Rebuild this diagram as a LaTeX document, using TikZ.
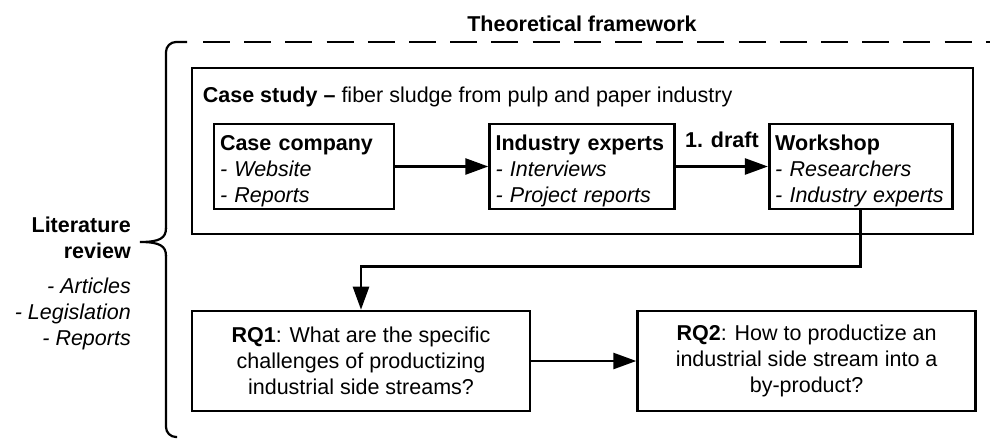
\documentclass[tikz,border=0pt]{standalone}
\usepackage{fontspec}
\setmainfont{Liberation Sans}
\usepackage{tikz}
\usetikzlibrary{arrows.meta,positioning,calc}

\begin{document}
\begin{tikzpicture}[x=1pt,y=-1pt,
    font=\fontsize{21.5pt}{26pt}\selectfont,
    >={Triangle[length=23pt,width=16pt]},
    node distance=93pt,
    box/.style={draw,line width=2.6pt,align=left,inner xsep=6pt,inner ysep=0pt,minimum height=85pt,
      execute at begin node={\rule{0pt}{23.5pt}}},
    rqbox/.style={draw,line width=2.6pt,align=center,minimum width=338pt,minimum height=100pt},
    flow/.style={->,line width=2.6pt},
    brace/.style={line width=2.2pt}]
  \useasboundingbox (0,0) rectangle (990,439);
  \node[anchor=base] (framework) at (582,31) {\textbf{Theoretical framework}};
  \draw[brace,rounded corners=10pt] (187,42) -- (166,42) -- (166,229);
  \draw[brace] (166,228) .. controls (166,238) and (160,242) .. (140,242)
    .. controls (160,242) and (166,246) .. (166,256);
  \draw[brace,rounded corners=10pt] (166,255) -- (166,437) -- (177,437);
  \draw[line width=2.6pt,dash pattern=on 27pt off 14.2pt] (203,42) -- (990,42);
  \node[anchor=east,align=right,inner sep=0pt] (litreview) at (131,283.5)
    {\textbf{Literature}\\\textbf{review}\\[9pt]\textit{- Articles}\\\textit{- Legislation}\\\textit{- Reports}};

  \node[draw,line width=2.6pt,minimum width=781pt,minimum height=166pt] (casestudy) at (582.5,151) {};
  \node[anchor=base west,inner sep=0pt] (cslabel) at ($(casestudy.north west)+(12,36)$)
    {\textbf{Case study –} fiber sludge from pulp and paper industry};
  \node[box,text width=168pt] (company) at (304,166.5)
    {\textbf{Case company}\\\textit{- Website}\\\textit{- Reports}};
  \node[box,text width=173pt,right=of company] (experts)
    {\textbf{Industry experts}\\\textit{- Interviews}\\\textit{- Project reports}};
  \node[box,text width=171pt,right=92pt of experts] (workshop)
    {\textbf{Workshop}\\\textit{- Researchers}\\\textit{- Industry experts}};

  \node[rqbox] (rq1) at (361,361)
    {\textbf{RQ1}: What are the specific\\challenges of productizing\\industrial side streams?};
  \node[rqbox,right=105pt of rq1] (rq2)
    {\textbf{RQ2}: How to productize an\\industrial side stream into a\\by-product?};

  \draw[flow] (company) -- (experts);
  \draw[flow] (experts) -- node[above=17pt,inner sep=0pt] (draft) {\textbf{1. draft}} (workshop);
  \draw[flow] (workshop.south) -- ++(0,56) -| (rq1.north);
  \draw[flow] (rq1) -- (rq2);
\end{tikzpicture}
\end{document}
